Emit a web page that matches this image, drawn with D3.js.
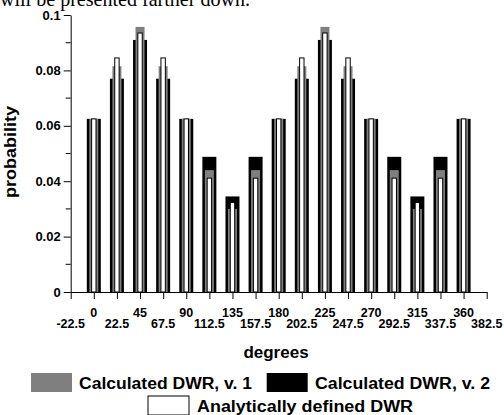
<!DOCTYPE html>
<html>
<head>
<meta charset="utf-8">
<script src="https://cdn.jsdelivr.net/npm/d3@7"></script>
<style>
  body { margin: 0; background: #fff; }
  svg { display: block; }
  text { font-family: "Liberation Sans", Arial, sans-serif; font-weight: bold; fill: #000; }
</style>
</head>
<body>
<div id="chart"></div>
<script>
var angles = [0, 22.5, 45, 67.5, 90, 112.5, 135, 157.5, 180, 202.5, 225, 247.5, 270, 292.5, 315, 337.5, 360];
var calcV1 = [0.0625, 0.0815, 0.0957, 0.0815, 0.0625, 0.0440, 0.0300, 0.0440, 0.0625, 0.0815, 0.0957, 0.0815, 0.0625, 0.0440, 0.0300, 0.0440, 0.0625];
var calcV2 = [0.0625, 0.0770, 0.0910, 0.0770, 0.0625, 0.0488, 0.0345, 0.0488, 0.0625, 0.0770, 0.0910, 0.0770, 0.0625, 0.0488, 0.0345, 0.0488, 0.0625];
var analytic = [0.0625, 0.0845, 0.0935, 0.0845, 0.0625, 0.0411, 0.0323, 0.0411, 0.0625, 0.0845, 0.0935, 0.0845, 0.0625, 0.0411, 0.0323, 0.0411, 0.0625];
var xTicks = [-22.5, 0, 22.5, 45, 67.5, 90, 112.5, 135, 157.5, 180, 202.5, 225, 247.5, 270, 292.5, 315, 337.5, 360, 382.5];
var xLabelsTop = ["0", "45", "90", "135", "180", "225", "270", "315", "360"];
var xLabelsBottom = ["-22.5", "22.5", "67.5", "112.5", "157.5", "202.5", "247.5", "292.5", "337.5", "382.5"];
var yMajor = [0, 0.02, 0.04, 0.06, 0.08, 0.1];
var yMinor = [0.01, 0.03, 0.05, 0.07, 0.09];

var width = 504, height = 415;

var svg = d3.select("#chart").append("svg")
    .attr("width", width)
    .attr("height", height);

var x = d3.scaleLinear().domain([-22.5, 382.5]).range([70.7, 486.7]);
var y = d3.scaleLinear().domain([0, 0.1]).range([292, 15]);

// cropped caption line from the page above (only its lower part shows)
svg.append("text")
    .attr("x", 0).attr("y", 5.5)
    .attr("textLength", 250)
    .attr("lengthAdjust", "spacingAndGlyphs")
    .style("font-family", "'Liberation Serif', 'Times New Roman', serif")
    .style("font-weight", "normal")
    .style("font-size", "21px")
    .text("will be presented farther down.");

// bars: black widest at back, gray, white narrow in front
var series = [
  { vals: calcV2, w: 14, fill: "#000", stroke: "none" },
  { vals: calcV1, w: 9, fill: "#7f7f7f", stroke: "none" },
  { vals: analytic, w: 4.4, fill: "#fff", stroke: "#000" }
];

series.forEach(function (s) {
  svg.append("g").selectAll("rect")
    .data(angles)
    .enter().append("rect")
    .attr("x", function (d) { return x(d) - s.w / 2; })
    .attr("y", function (d, i) { return y(s.vals[i]); })
    .attr("width", s.w)
    .attr("height", function (d, i) { return y(0) - y(s.vals[i]); })
    .attr("fill", s.fill)
    .attr("stroke", s.stroke)
    .attr("stroke-width", 1);
});

// y axis
var yAxis = svg.append("g")
    .attr("transform", "translate(" + x(-22.5) + ",0)")
    .call(d3.axisLeft(y).tickValues(yMajor).tickSize(7).tickSizeOuter(0)
      .tickFormat(function (d) { return d === 0 ? "0" : String(+d.toFixed(2)); }));
yAxis.append("g").selectAll("line")
    .data(yMinor)
    .enter().append("line")
    .attr("x1", -5).attr("x2", 0)
    .attr("y1", function (d) { return y(d); })
    .attr("y2", function (d) { return y(d); })
    .attr("stroke", "#000");
yAxis.selectAll("text")
    .style("font-family", "'Liberation Sans', Arial, sans-serif")
    .style("font-weight", "bold")
    .style("font-size", "13px")
    .attr("fill", "#000")
    .attr("x", -10);

// x axis
var xAxis = svg.append("g")
    .attr("transform", "translate(0," + y(0) + ")")
    .call(d3.axisBottom(x).tickValues(xTicks).tickSize(7).tickSizeOuter(0).tickFormat(""));
svg.selectAll(".domain, .tick line").attr("stroke", "#000");

svg.append("g").selectAll("text")
    .data(xLabelsTop)
    .enter().append("text")
    .attr("x", function (d) { return x(+d); })
    .attr("y", 316.5)
    .attr("text-anchor", "middle")
    .style("font-size", "12.5px")
    .text(function (d) { return d; });

svg.append("g").selectAll("text")
    .data(xLabelsBottom)
    .enter().append("text")
    .attr("x", function (d) { return x(+d); })
    .attr("y", 328)
    .attr("text-anchor", "middle")
    .style("font-size", "12.5px")
    .text(function (d) { return d; });

// axis titles
svg.append("text")
    .attr("x", 276).attr("y", 358)
    .attr("text-anchor", "middle")
    .style("font-size", "17px")
    .text("degrees");

svg.append("text")
    .attr("transform", "translate(16,152) rotate(-90)")
    .attr("text-anchor", "middle")
    .attr("textLength", 92)
    .attr("lengthAdjust", "spacingAndGlyphs")
    .style("font-size", "16px")
    .text("probability");

// legend
var legend = [
  { label: "Calculated DWR, v. 1", fill: "#7f7f7f", stroke: "none", rx: 31, ry: 373, tx: 79, ty: 388.5, tl: 173 },
  { label: "Calculated DWR, v. 2", fill: "#000", stroke: "none", rx: 266.7, ry: 373, tx: 315, ty: 388.5, tl: 175 },
  { label: "Analytically defined DWR", fill: "#fff", stroke: "#000", rx: 148, ry: 396, tx: 197, ty: 412, tl: 216 }
];
var lg = svg.append("g").selectAll("g").data(legend).enter().append("g");
lg.append("rect")
    .attr("x", function (d) { return d.rx; })
    .attr("y", function (d) { return d.ry; })
    .attr("width", 41).attr("height", 19)
    .attr("fill", function (d) { return d.fill; })
    .attr("stroke", function (d) { return d.stroke; });
lg.append("text")
    .attr("x", function (d) { return d.tx; })
    .attr("y", function (d) { return d.ty; })
    .attr("textLength", function (d) { return d.tl; })
    .attr("lengthAdjust", "spacingAndGlyphs")
    .style("font-size", "16px")
    .text(function (d) { return d.label; });
</script>
</body>
</html>
